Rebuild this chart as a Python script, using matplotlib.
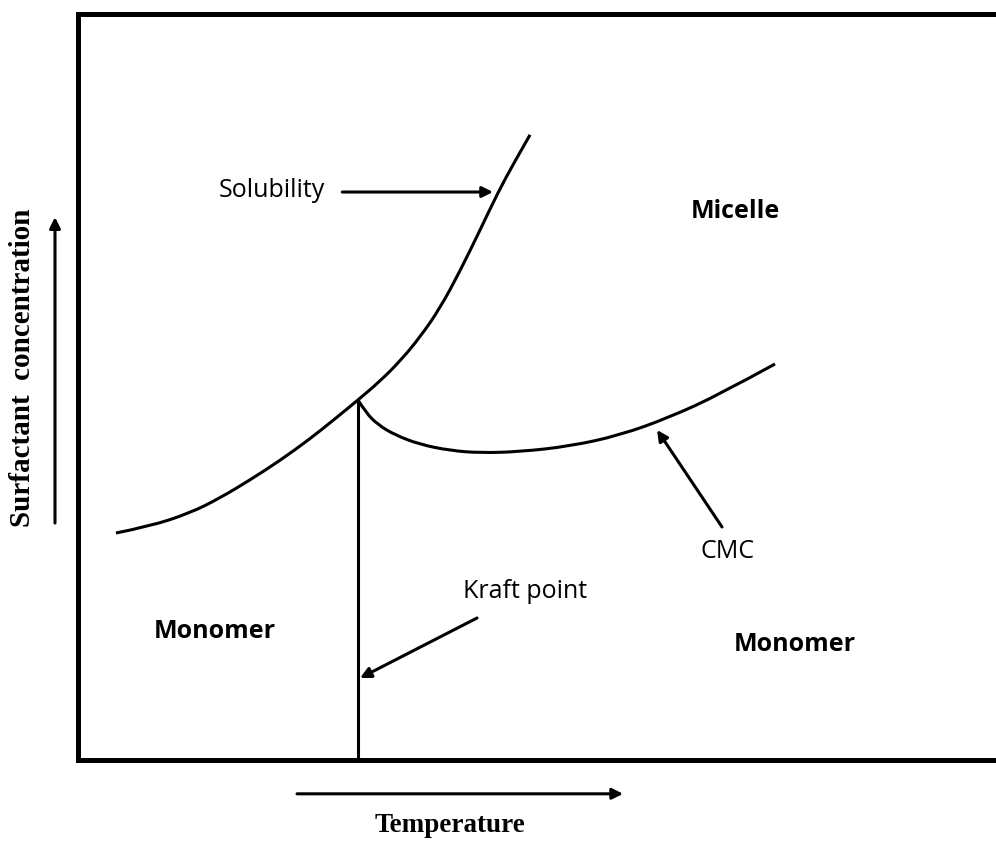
import matplotlib
matplotlib.use('Agg')
import matplotlib.pyplot as plt
from matplotlib.path import Path
from matplotlib.patches import PathPatch

##### data (arbitrary units, temperature 0-100, concentration 0-100) #####
sol_T    = [4.19, 7.89, 12.25, 15.51, 18.78, 22.05, 25.31, 28.03, 30.54,
            32.93, 35.11, 37.29, 39.47, 41.64, 43.82, 45.78, 47.52, 49.27]
sol_C    = [30.36, 31.27, 33.04, 35.05, 37.47, 40.08, 42.98, 45.66, 48.19,
            50.71, 53.39, 56.61, 60.50, 65.46, 70.95, 76.02, 79.99, 83.74]

cmc_T    = [30.54, 31.41, 32.72, 34.57, 37.29, 40.56, 43.82, 48.18, 53.62, 59.06, 64.50, 69.95, 75.94]
cmc_C    = [48.19, 46.47, 44.87, 43.50, 42.23, 41.42, 41.10, 41.26, 42.00, 43.47, 45.89, 48.97, 53.02]

kraft_T  = 30.54
kraft_C  = 48.19

# arrows: (tail, head)
sol_arrow   = ((28.83, 76.07), (45.24, 76.07))
cmc_arrow   = ((70.17, 31.17), (63.1, 44.17))
kraft_arrow = ((43.5, 18.97), (30.76, 10.92))

# labels: text, x, y, bold
labels = [('Solubility',  21.18, 75.4,  False),
          ('Micelle',     71.6,  72.6,  True),
          ('CMC',         70.82, 27.01, False),
          ('Kraft point', 48.72, 21.7,  False),
          ('Monomer',     14.97, 16.29, True),
          ('Monomer',     78.12, 14.54, True)]

######## helper: smooth quadratic b-spline path through the read points #########
def smooth_path(xs, ys):
    pts   = list(zip(xs, ys))
    verts = [pts[0]]
    codes = [Path.MOVETO]
    for i in range(1, len(pts) - 1):
        mid = ((pts[i][0] + pts[i+1][0]) / 2, (pts[i][1] + pts[i+1][1]) / 2)
        if i == len(pts) - 2:
            mid = pts[-1]
        verts += [pts[i], mid]
        codes += [Path.CURVE3, Path.CURVE3]
    return Path(verts, codes)

######## figure ##########################
W, H = 996, 842
fig = plt.figure(figsize=(W/100, H/100), dpi=100)
ax  = fig.add_axes([77.5/W, (H-759.5)/H, 1-77.5/W, (759.5-13.5)/H])
ax.set_xlim(0, 100)
ax.set_ylim(0, 100)
ax.set_xticks([]); ax.set_yticks([])
for s in ['left', 'top', 'bottom']:
    ax.spines[s].set_linewidth(3.6)
ax.spines['right'].set_visible(False)

for xs, ys in [(sol_T, sol_C), (cmc_T, cmc_C)]:
    ax.add_patch(PathPatch(smooth_path(xs, ys), facecolor='none', edgecolor='black',
                           lw=2.2, capstyle='butt'))
ax.vlines(kraft_T, 0, kraft_C, color='black', lw=2.2)

aprops = dict(arrowstyle='-|>', color='black', lw=2.2, mutation_scale=16,
              shrinkA=0, shrinkB=0)
for tail, head in [sol_arrow, cmc_arrow, kraft_arrow]:
    ax.annotate('', xy=head, xytext=tail, arrowprops=aprops)

for txt, x, y, b in labels:
    ax.text(x, y, txt, ha='center', va='baseline', fontsize=18,
            family='Open Sans', fontweight='bold' if b else 'normal')

# axis direction arrows outside the frame
ax.annotate('', xy=(-0.0245, 0.727), xytext=(-0.0245, 0.317), xycoords='axes fraction',
            arrowprops=aprops, annotation_clip=False)
ax.annotate('', xy=(0.594, -0.046), xytext=(0.239, -0.046), xycoords='axes fraction',
            arrowprops=aprops, annotation_clip=False)

ax.text(0.4056, -0.0891, 'Temperature', transform=ax.transAxes, ha='center', va='center',
        fontsize=19.5, family='Liberation Serif', fontweight='bold')
ax.text(-0.0604, 0.5248, 'Surfactant  concentration', transform=ax.transAxes, ha='center',
        va='center', rotation=90, fontsize=21, family='Liberation Serif', fontweight='bold')

fig.savefig('out.png', dpi=100)
